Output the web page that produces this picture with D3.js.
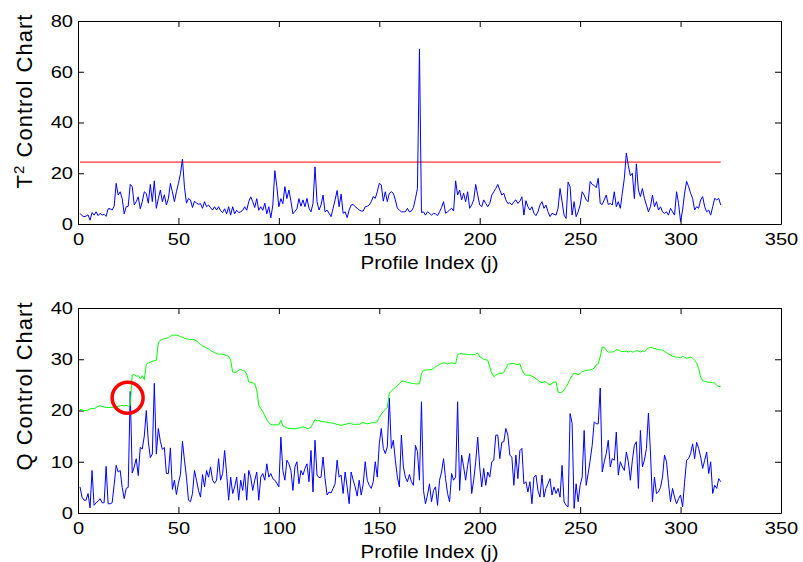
<!DOCTYPE html>
<html>
<head>
<meta charset="utf-8">
<script src="https://cdn.jsdelivr.net/npm/d3@7"></script>
<style>
  body { margin: 0; background: #fff; }
  svg { display: block; }
  text { font-family: "Liberation Sans", Arial, sans-serif; }
</style>
</head>
<body>
<svg id="chart" width="803" height="562"></svg>
<script>
// T^2 statistic per profile (j = 1..320)
const t2Values = [
  4.2,3.3,2.9,3.1,3.6,1.5,4.5,3.5,4.8,3.3,
  4.2,3.5,3.8,3.0,6.0,6.0,5.5,7.0,16.0,11.4,
  12.7,10.0,4.0,6.8,7.0,15.6,14.7,7.5,8.8,10.7,
  6.0,8.8,12.7,12.0,8.2,15.6,8.8,17.0,6.2,10.0,
  13.4,8.8,11.5,7.5,10.0,16.0,12.7,8.8,12.7,16.0,
  19.8,25.6,14.5,8.2,10.0,9.5,6.5,9.0,8.2,7.8,
  8.0,6.2,8.8,6.8,7.5,6.4,5.5,6.8,5.5,6.8,
  5.2,4.5,6.0,4.0,6.8,3.5,6.8,4.0,5.4,4.5,
  4.8,5.4,6.8,5.4,8.8,10.7,8.8,6.5,10.0,5.4,
  6.8,5.4,8.2,4.0,6.8,2.4,7.5,21.0,14.7,6.8,
  10.0,8.0,14.7,10.0,13.4,9.0,4.0,5.0,6.0,10.0,
  7.0,9.5,6.8,10.1,6.2,4.8,8.1,22.5,8.8,5.5,
  7.5,11.4,4.8,5.5,4.2,2.9,6.2,9.5,13.2,6.8,
  11.8,4.2,4.8,2.5,5.5,7.5,7.7,6.8,6.2,5.5,
  5.1,5.1,6.8,7.0,7.5,8.8,10.8,10.1,12.7,16.0,
  15.4,9.0,12.7,8.8,12.1,12.7,12.1,9.5,6.2,5.5,
  4.8,4.8,4.8,6.2,4.8,5.1,6.5,10.0,14.0,69.0,
  4.5,4.8,3.5,4.8,4.2,3.5,4.2,4.0,3.3,4.8,
  6.5,8.8,4.2,4.8,5.5,6.2,5.1,17.0,11.4,13.4,
  9.5,12.1,8.8,12.7,6.2,7.5,9.5,15.6,11.4,7.5,
  6.8,9.5,8.1,6.8,8.1,11.4,12.7,14.0,15.6,13.4,
  11.4,12.1,9.5,8.1,8.4,7.5,8.8,9.5,8.1,9.0,
  10.7,3.5,9.2,6.8,5.5,6.8,4.2,3.3,4.8,7.5,
  8.8,6.2,7.5,4.8,2.9,4.2,3.8,3.5,6.2,14.0,
  8.8,3.5,2.2,16.5,14.7,3.5,8.8,2.9,4.8,7.5,
  12.7,11.4,9.5,8.8,16.8,15.6,15.2,14.3,18.0,8.1,
  7.7,9.5,11.4,7.7,8.1,7.5,12.7,6.8,8.8,6.2,
  12.1,18.0,28.0,23.0,19.0,20.0,10.0,23.7,13.4,10.8,
  14.0,10.1,7.5,4.8,6.8,11.4,6.8,8.8,5.5,6.8,
  4.8,4.2,4.8,3.5,6.2,4.8,3.5,12.7,8.1,1.0,
  5.5,12.1,16.8,14.7,12.1,10.1,5.5,6.8,6.2,9.5,
  10.8,6.8,4.8,5.5,3.5,6.8,10.1,9.5,10.1,7.5
];
const t2Limit = 24.4;

// Q statistic per profile
const qValues = [
  5.1,3.1,2.5,2.5,3.8,1.0,8.3,1.5,2.0,2.3,
  2.8,2.0,2.0,9.1,1.8,1.8,2.0,5.5,9.3,8.0,
  8.3,5.0,2.8,4.8,5.0,23.7,7.8,9.0,10.6,7.3,
  12.8,12.5,15.0,20.0,14.0,10.8,11.5,25.3,11.5,16.5,
  14.0,12.4,12.8,7.7,7.7,12.7,4.6,6.4,3.6,5.8,
  7.5,14.0,10.3,7.0,2.5,2.2,3.8,8.3,6.4,4.4,
  3.1,7.5,5.1,8.3,7.0,9.0,6.4,5.8,6.4,10.6,
  6.4,7.7,12.2,7.7,2.5,7.0,3.8,5.1,7.0,2.5,
  6.4,4.4,7.7,2.5,8.3,7.0,4.4,6.4,8.0,2.5,
  7.0,7.7,6.4,9.6,7.0,7.7,6.7,6.4,5.8,5.1,
  14.8,8.3,6.4,10.3,9.6,8.3,4.4,9.0,10.0,5.7,
  8.3,7.4,8.7,9.6,6.1,12.2,4.1,14.2,7.4,6.9,
  7.0,10.9,6.7,3.5,4.1,3.9,4.8,5.7,10.3,7.0,
  7.4,3.8,8.0,5.1,1.8,8.0,6.4,5.1,3.3,6.4,
  3.5,5.7,10.0,6.4,5.4,4.8,6.1,10.0,7.0,13.5,
  16.5,12.6,11.6,12.9,22.4,12.6,14.2,10.3,7.0,5.1,
  15.2,9.0,7.0,6.1,7.5,6.1,5.4,13.2,12.0,6.4,
  21.7,4.4,1.8,3.5,5.7,2.2,4.4,5.1,1.5,6.4,
  8.0,10.6,6.7,3.8,2.2,7.7,6.4,7.0,21.7,4.4,
  11.3,9.0,6.4,9.3,11.6,3.8,6.4,10.0,14.8,9.0,
  5.1,8.7,5.4,8.0,7.0,10.0,10.3,15.2,15.2,10.6,
  13.8,13.9,16.5,15.2,11.3,10.9,5.4,11.3,6.7,12.2,
  12.6,5.7,6.1,4.1,6.1,1.8,7.0,7.4,4.4,3.1,
  7.4,3.1,4.8,5.7,6.7,3.5,5.1,3.8,4.8,3.1,
  9.3,2.2,1.5,1.2,19.4,17.5,0.9,5.7,2.2,5.4,
  7.0,16.1,5.4,7.7,10.3,13.2,17.8,17.4,17.4,24.4,
  8.0,10.0,11.6,14.2,9.0,10.6,10.3,15.8,7.4,10.0,
  9.0,8.3,11.9,10.0,6.4,10.3,13.2,13.9,4.8,16.1,
  9.0,10.3,12.6,19.5,11.9,2.2,7.0,3.8,4.1,5.0,
  7.0,11.3,10.0,5.7,2.2,4.8,3.1,1.8,2.8,3.5,
  1.2,6.0,10.3,10.6,11.6,13.5,10.6,13.8,12.6,10.9,
  8.7,10.3,11.9,7.7,10.0,3.8,5.4,4.8,6.7,6.1
];

// adaptive Q control limit
const qLimit = [
  20.2,20.1,20.0,20.0,20.1,20.3,20.4,20.3,20.6,20.8,
  20.9,20.8,20.7,20.6,20.6,20.6,20.6,20.7,20.8,20.8,
  20.9,21.0,20.9,21.0,20.8,21.0,26.9,27.0,26.7,26.8,
  26.2,26.8,26.0,29.0,29.3,29.4,29.6,29.7,29.8,33.2,
  33.7,33.9,34.0,34.1,34.2,34.5,34.7,34.7,34.7,34.6,
  34.4,34.3,34.1,34.0,33.9,33.8,33.9,33.8,33.6,33.2,
  32.9,32.6,32.4,32.2,32.0,31.7,31.5,31.3,31.1,31.0,
  31.0,31.0,30.9,30.7,30.6,29.8,27.5,27.4,27.5,27.9,
  28.0,27.8,27.7,27.1,25.6,25.5,25.4,25.2,24.0,21.0,
  20.4,19.8,19.0,18.2,17.6,17.3,17.2,17.2,17.2,17.2,
  18.1,17.0,16.8,16.6,16.5,16.5,16.5,16.4,16.5,16.6,
  16.7,16.8,16.7,16.5,16.5,16.8,17.5,18.2,18.0,18.0,
  17.9,17.8,17.8,17.7,17.6,17.6,17.5,17.4,17.3,17.2,
  17.1,17.2,17.3,17.4,17.5,17.4,17.3,17.3,17.3,17.3,
  17.5,17.7,17.5,17.4,17.5,17.6,17.6,17.6,17.8,18.7,
  19.3,19.8,20.2,20.6,23.4,23.8,24.2,24.5,24.9,25.2,
  25.7,25.7,25.6,25.5,25.4,25.3,25.3,25.2,25.2,25.2,
  27.2,27.8,27.9,27.9,28.0,28.0,28.2,28.5,28.8,29.0,
  29.2,29.3,29.2,29.1,29.2,29.3,29.2,29.1,30.9,31.1,
  31.1,31.0,31.0,30.9,30.9,30.9,30.9,31.0,31.2,30.5,
  30.3,30.0,29.9,29.8,28.5,27.3,26.6,26.9,27.1,27.3,
  27.2,27.5,28.2,29.0,29.1,29.2,29.2,29.0,29.0,29.1,
  28.0,27.2,26.9,26.9,26.9,26.7,26.5,26.2,25.9,25.6,
  25.4,25.6,25.6,25.2,25.0,25.3,25.5,25.6,23.6,23.5,
  23.6,24.0,24.6,25.3,26.1,26.8,27.3,27.2,27.0,27.2,
  27.6,27.7,27.8,27.9,27.9,28.0,28.3,28.9,29.1,30.5,
  32.4,32.3,31.8,31.4,31.4,31.4,31.5,31.9,31.8,31.6,
  31.5,31.5,31.6,31.4,31.6,31.4,31.5,31.7,31.6,31.4,
  31.6,31.5,31.8,32.2,32.3,32.2,32.1,32.0,31.9,31.8,
  31.8,31.5,31.3,31.0,30.8,30.6,30.5,30.4,30.4,30.2,
  30.6,30.4,30.2,30.3,30.4,30.2,29.8,29.3,28.2,26.5,
  25.8,25.7,25.6,25.5,25.5,25.4,25.4,24.9,24.7,24.7
];

// axis ticks
const xTicks = [0, 50, 100, 150, 200, 250, 300, 350];
const t2Ticks = [0, 20, 40, 60, 80];
const qTicks = [0, 10, 20, 30, 40];

// circled out-of-control point on the Q chart
const flagged = { j: 24.7, q: 22.5 };

const svg = d3.select("#chart");

const x = d3.scaleLinear().domain([0, 350]).range([78, 781]);
const profileIndex = i => i + 1;

// stretch axis text a bit wider, like the original render
function styleTicks(sel) {
  sel.selectAll("text")
    .style("font-size", "17px")
    .style("font-family", '"Liberation Sans", Arial, sans-serif')
    .attr("fill", "#000")
    .each(function () {
      const w = this.getComputedTextLength();
      d3.select(this).attr("textLength", w * 1.18).attr("lengthAdjust", "spacingAndGlyphs");
    });
  sel.selectAll("line, path").attr("stroke", "#000");
}

function drawPanel(top, bottom, yMax, yTicks, labelMid, labelParts) {
  const y = d3.scaleLinear().domain([0, yMax]).range([bottom, top]);
  const g = svg.append("g");

  // box with inward ticks on all four sides
  g.append("g")
    .attr("transform", `translate(0,${bottom})`)
    .call(d3.axisBottom(x).tickValues(xTicks).tickSizeInner(-6).tickSizeOuter(0).tickPadding(9))
    .call(styleTicks);

  g.append("g")
    .attr("transform", `translate(0,${top})`)
    .call(d3.axisTop(x).tickValues(xTicks).tickSizeInner(-6).tickSizeOuter(0).tickFormat(""))
    .call(styleTicks);

  g.append("g")
    .attr("transform", `translate(${x.range()[0]},0)`)
    .call(d3.axisLeft(y).tickValues(yTicks).tickSizeInner(-6).tickSizeOuter(0).tickPadding(5))
    .call(styleTicks);

  g.append("g")
    .attr("transform", `translate(${x.range()[1]},0)`)
    .call(d3.axisRight(y).tickValues(yTicks).tickSizeInner(-6).tickSizeOuter(0).tickFormat(""))
    .call(styleTicks);

  // x axis title
  g.append("text")
    .attr("x", (x.range()[0] + x.range()[1]) / 2)
    .attr("y", bottom + 45)
    .attr("text-anchor", "middle")
    .style("font-size", "18px")
    .attr("textLength", 138)
    .attr("lengthAdjust", "spacingAndGlyphs")
    .text("Profile Index (j)");

  // y axis title (rotated)
  const yl = g.append("text")
    .attr("transform", `translate(31.5,${labelMid}) rotate(-90)`)
    .attr("text-anchor", "middle")
    .style("font-size", "22px")
    .style("letter-spacing", "1px");
  labelParts.forEach(p => {
    yl.append("tspan")
      .attr("dy", p.dy || 0)
      .style("font-size", p.size || null)
      .text(p.text);
  });

  return { g, y };
}

// ---- T^2 panel ----
const p1 = drawPanel(21, 224, 80, t2Ticks, 101, [
  { text: "T" }, { text: "2", dy: -8, size: "15px" }, { text: " Control Chart", dy: 8 }
]);

p1.g.append("path")
  .datum([profileIndex(0), profileIndex(t2Values.length - 1)])
  .attr("fill", "none")
  .attr("stroke", "#ff0000")
  .attr("stroke-width", 1)
  .attr("d", d3.line().x(d => x(d)).y(() => p1.y(t2Limit)));

p1.g.append("path")
  .datum(t2Values)
  .attr("fill", "none")
  .attr("stroke", "#0000ff")
  .attr("stroke-width", 1)
  .attr("d", d3.line().x((d, i) => x(profileIndex(i))).y(d => p1.y(d)));

// ---- Q panel ----
const p2 = drawPanel(308, 513, 40, qTicks, 386, [{ text: "Q Control Chart" }]);

p2.g.append("path")
  .datum(qValues)
  .attr("fill", "none")
  .attr("stroke", "#0000ff")
  .attr("stroke-width", 1)
  .attr("d", d3.line().x((d, i) => x(profileIndex(i))).y(d => p2.y(d)));

p2.g.append("path")
  .datum(qLimit)
  .attr("fill", "none")
  .attr("stroke", "#00ff00")
  .attr("stroke-width", 1)
  .attr("d", d3.line().x((d, i) => x(profileIndex(i))).y(d => p2.y(d)));

p2.g.append("circle")
  .attr("cx", x(flagged.j))
  .attr("cy", p2.y(flagged.q))
  .attr("r", 15.5)
  .attr("fill", "none")
  .attr("stroke", "#ff0000")
  .attr("stroke-width", 3.5);
</script>
</body>
</html>
